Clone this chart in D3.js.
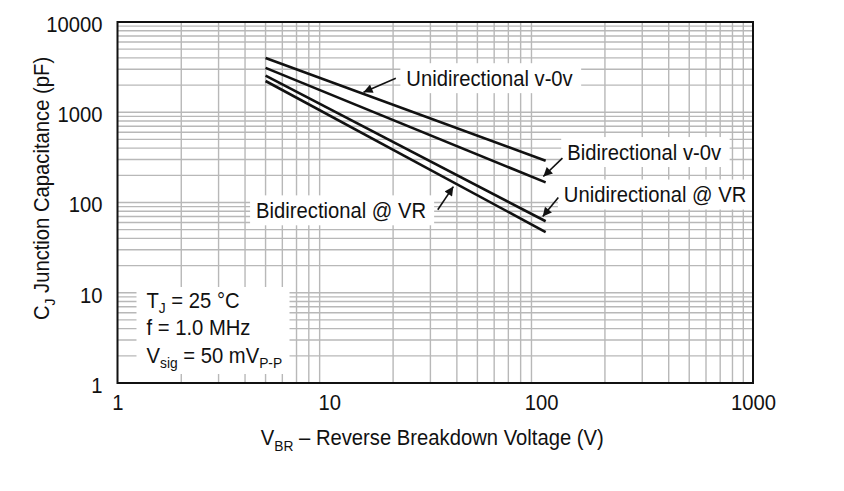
<!DOCTYPE html>
<html>
<head>
<meta charset="utf-8">
<script src="https://cdn.jsdelivr.net/npm/d3@7"></script>
<style>
  body { margin: 0; background: #fff; }
  svg { display: block; }
  text { font-family: "Liberation Sans", Arial, sans-serif; fill: #111; }
  text:not(.rot) { transform-box: fill-box; transform-origin: left center; transform: scaleX(0.92); }
  text.mid { transform-origin: center; }
  text.end { transform-origin: right center; }
</style>
</head>
<body>
<div id="chart"></div>
<script>
// breakdown voltage range covered by each curve (V)
const vbrRange = [5, 105];

// capacitance (pF) at the two ends of each curve
const uniZeroBias = [4000, 290];
const biZeroBias = [3100, 167];
const uniAtVr = [2540, 62];
const biAtVr = [2220, 47];

const xTicks = [1, 10, 100, 1000];
const yTicks = [1, 10, 100, 1000, 10000];

// callout labels: text, label anchor (V, pF), arrow tail and head (V, pF)
const callouts = [
  { text: 'Unidirectional v-0v', at: [23.1, 1954], tail: [20.6, 2387], head: [14.5, 1668] },
  { text: 'Bidirectional v-0v', at: [132.7, 297], tail: [126, 310], head: [102.4, 194] },
  { text: 'Unidirectional @ VR', at: [128, 100.4], tail: [120.5, 113.5], head: [101.7, 70] },
  { text: 'Bidirectional @ VR', at: [4.51, 67.1], tail: [32.5, 83], head: [38.5, 150] }
];

(function () {
  const width = 844, height = 491;
  const margin = { top: 22, right: 91, bottom: 108, left: 117.5 };
  const fs = '22px', sub = '15px', squeeze = 0.92;

  const svg = d3.select('#chart').append('svg')
    .attr('width', width)
    .attr('height', height);

  const x = d3.scaleLog().domain([1, 1000]).range([margin.left, width - margin.right]);
  const y = d3.scaleLog().domain([1, 10000]).range([height - margin.bottom, margin.top]);

  // grid
  const xGrid = [], yGrid = [];
  for (let d = 1; d < 1000; d *= 10) for (let k = 2; k <= 9; k++) xGrid.push(d * k);
  for (let d = 1; d < 10000; d *= 10) for (let k = 1; k <= 9; k++) if (d * k > 1) yGrid.push(d * k);

  const grid = svg.append('g').attr('stroke', '#b8b8b8').attr('stroke-width', 1.4);
  grid.selectAll('.gx').data(xGrid).enter().append('line')
    .attr('x1', d => x(d)).attr('x2', d => x(d))
    .attr('y1', y(1)).attr('y2', y(10000));
  grid.selectAll('.gy').data(yGrid).enter().append('line')
    .attr('x1', x(1)).attr('x2', x(1000))
    .attr('y1', d => y(d)).attr('y2', d => y(d));

  // axes, labels only
  const xAxis = svg.append('g')
    .attr('transform', `translate(0,${y(1)})`)
    .call(d3.axisBottom(x).tickValues(xTicks).tickFormat(d3.format('d')).tickSize(0).tickPadding(11));
  const yAxis = svg.append('g')
    .attr('transform', `translate(${x(1)},0)`)
    .call(d3.axisLeft(y).tickValues(yTicks).tickFormat(d3.format('d')).tickSize(0).tickPadding(15));
  [xAxis, yAxis].forEach(a => {
    a.select('.domain').remove();
    a.selectAll('text').attr('font-size', fs).attr('font-family', null).attr('fill', '#111');
  });
  xAxis.selectAll('text').attr('class', 'mid');
  yAxis.selectAll('text').attr('class', 'end').attr('dy', '0.42em');

  // data curves
  const series = [uniZeroBias, biZeroBias, uniAtVr, biAtVr];
  const line = d3.line().x(d => x(d[0])).y(d => y(d[1]));
  svg.append('g').selectAll('path').data(series).enter().append('path')
    .attr('d', s => line(vbrRange.map((v, i) => [v, s[i]])))
    .attr('fill', 'none')
    .attr('stroke', '#111')
    .attr('stroke-width', 2.6);

  // arrow marker
  svg.append('defs').append('marker')
    .attr('id', 'arrow')
    .attr('viewBox', '0 0 10 10')
    .attr('refX', 10).attr('refY', 5)
    .attr('markerUnits', 'userSpaceOnUse')
    .attr('markerWidth', 11).attr('markerHeight', 9)
    .attr('orient', 'auto')
    .append('path').attr('d', 'M0,0 L10,5 L0,10 Z').attr('fill', '#111');

  // callouts
  const notes = svg.append('g');
  callouts.forEach(c => {
    const g = notes.append('g');
    const bg = g.append('rect').attr('fill', '#fff');
    const t = g.append('text')
      .attr('x', x(c.at[0])).attr('y', y(c.at[1]))
      .attr('font-size', fs)
      .text(c.text);
    const b = t.node().getBBox();
    bg.attr('x', b.x - 6).attr('y', b.y - 3).attr('width', b.width * squeeze + 14).attr('height', b.height + 6);
    g.append('line')
      .attr('x1', x(c.tail[0])).attr('y1', y(c.tail[1]))
      .attr('x2', x(c.head[0])).attr('y2', y(c.head[1]))
      .attr('stroke', '#111').attr('stroke-width', 1.6)
      .attr('marker-end', 'url(#arrow)');
  });

  // test conditions box
  const cond = svg.append('g');
  cond.append('rect')
    .attr('x', x(1) + 19).attr('y', y(1) - 96)
    .attr('width', 153).attr('height', 87)
    .attr('fill', '#fff');
  const cx = x(1) + 29;
  const t1 = cond.append('text').attr('x', cx).attr('y', y(1) - 75).attr('font-size', fs);
  t1.append('tspan').text('T');
  t1.append('tspan').attr('font-size', sub).attr('dy', 5).text('J');
  t1.append('tspan').attr('dy', -5).text(' = 25 °C');
  cond.append('text').attr('x', cx).attr('y', y(1) - 48).attr('font-size', fs).text('f = 1.0 MHz');
  const t3 = cond.append('text').attr('x', cx).attr('y', y(1) - 20).attr('font-size', fs);
  t3.append('tspan').text('V');
  t3.append('tspan').attr('font-size', sub).attr('dy', 5).text('sig');
  t3.append('tspan').attr('dy', -5).text(' = 50 mV');
  t3.append('tspan').attr('font-size', sub).attr('dy', 5).text('P-P');

  // frame
  svg.append('rect')
    .attr('x', x(1)).attr('y', y(10000))
    .attr('width', x(1000) - x(1)).attr('height', y(1) - y(10000))
    .attr('fill', 'none').attr('stroke', '#111').attr('stroke-width', 2);

  // axis titles
  const xt = svg.append('text')
    .attr('class', 'mid')
    .attr('x', (x(1) + x(1000)) / 2 - 3).attr('y', 445)
    .attr('text-anchor', 'middle').attr('font-size', fs);
  xt.append('tspan').text('V');
  xt.append('tspan').attr('font-size', sub).attr('dy', 6).text('BR');
  xt.append('tspan').attr('dy', -6).text(' \u2013 Reverse Breakdown Voltage (V)');

  const yt = svg.append('text')
    .attr('class', 'rot')
    .attr('transform', `translate(49,${(y(1) + y(10000)) / 2 - 14}) rotate(-90) scale(${squeeze},1)`)
    .attr('text-anchor', 'middle').attr('font-size', fs);
  yt.append('tspan').text('C');
  yt.append('tspan').attr('font-size', sub).attr('dy', 6).text('J');
  yt.append('tspan').attr('dy', -6).text(' Junction Capacitance (pF)');
})();
</script>
</body>
</html>
